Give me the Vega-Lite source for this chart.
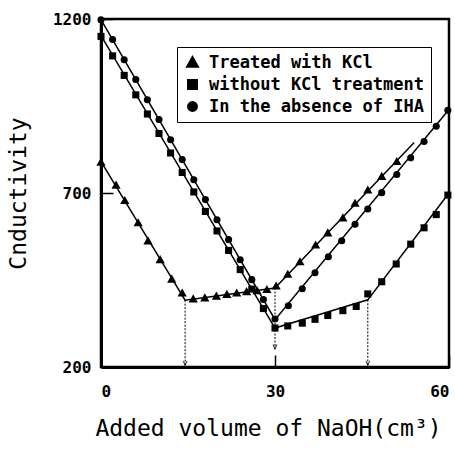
{
  "$schema": "https://vega.github.io/schema/vega-lite/v6.json",
  "autosize": "none",
  "width": 348,
  "height": 348,
  "padding": {"left": 101, "top": 19, "right": 6, "bottom": 83},
  "background": "white",
  "config": {
    "view": {"stroke": "black", "strokeWidth": 2.5},
    "font": "DejaVu Sans Mono"
  },
  "datasets": {
    "fits": [
      {"series": "Treated with KCl", "x": 0, "y": 790},
      {"series": "Treated with KCl", "x": 14.5, "y": 392},
      {"series": "Treated with KCl", "x": 30, "y": 427},
      {"series": "Treated with KCl", "x": 54, "y": 845},
      {"series": "without KCl treatment", "x": 0, "y": 1152},
      {"series": "without KCl treatment", "x": 30, "y": 312},
      {"series": "without KCl treatment", "x": 46, "y": 393},
      {"series": "without KCl treatment", "x": 60, "y": 700},
      {"series": "In the absence of IHA", "x": 0, "y": 1198},
      {"series": "In the absence of IHA", "x": 30, "y": 336},
      {"series": "In the absence of IHA", "x": 60, "y": 940}
    ],
    "arrows": [
      {"x": 14.5, "y": 392, "y_end": 205},
      {"x": 30, "y": 427, "y_end": 252},
      {"x": 46, "y": 393, "y_end": 205}
    ],
    "points": [
      {"series": "Treated with KCl", "x": 0, "y": 788},
      {"series": "Treated with KCl", "x": 2.6, "y": 722},
      {"series": "Treated with KCl", "x": 4.1, "y": 678},
      {"series": "Treated with KCl", "x": 6.4, "y": 614},
      {"series": "Treated with KCl", "x": 8.1, "y": 562},
      {"series": "Treated with KCl", "x": 10.2, "y": 508},
      {"series": "Treated with KCl", "x": 12.2, "y": 452},
      {"series": "Treated with KCl", "x": 14.0, "y": 412},
      {"series": "Treated with KCl", "x": 15.9, "y": 395},
      {"series": "Treated with KCl", "x": 17.9, "y": 398},
      {"series": "Treated with KCl", "x": 19.9, "y": 403},
      {"series": "Treated with KCl", "x": 21.7, "y": 408},
      {"series": "Treated with KCl", "x": 23.4, "y": 412},
      {"series": "Treated with KCl", "x": 25.1, "y": 416},
      {"series": "Treated with KCl", "x": 26.9, "y": 419},
      {"series": "Treated with KCl", "x": 28.6, "y": 422},
      {"series": "Treated with KCl", "x": 30.2, "y": 432},
      {"series": "Treated with KCl", "x": 32.2, "y": 466},
      {"series": "Treated with KCl", "x": 34.3, "y": 502},
      {"series": "Treated with KCl", "x": 37.0, "y": 550},
      {"series": "Treated with KCl", "x": 39.1, "y": 585},
      {"series": "Treated with KCl", "x": 41.7, "y": 628},
      {"series": "Treated with KCl", "x": 43.8, "y": 670},
      {"series": "Treated with KCl", "x": 46.0, "y": 708},
      {"series": "Treated with KCl", "x": 48.4, "y": 747},
      {"series": "Treated with KCl", "x": 51.0, "y": 790},
      {"series": "without KCl treatment", "x": 0, "y": 1150},
      {"series": "without KCl treatment", "x": 2, "y": 1094},
      {"series": "without KCl treatment", "x": 4, "y": 1038},
      {"series": "without KCl treatment", "x": 6, "y": 982},
      {"series": "without KCl treatment", "x": 8, "y": 927},
      {"series": "without KCl treatment", "x": 10, "y": 871},
      {"series": "without KCl treatment", "x": 12, "y": 815},
      {"series": "without KCl treatment", "x": 14, "y": 759},
      {"series": "without KCl treatment", "x": 16, "y": 703},
      {"series": "without KCl treatment", "x": 18, "y": 647},
      {"series": "without KCl treatment", "x": 20, "y": 591},
      {"series": "without KCl treatment", "x": 22, "y": 535},
      {"series": "without KCl treatment", "x": 24, "y": 480},
      {"series": "without KCl treatment", "x": 26, "y": 424},
      {"series": "without KCl treatment", "x": 28, "y": 368},
      {"series": "without KCl treatment", "x": 30, "y": 312},
      {"series": "without KCl treatment", "x": 32.2, "y": 318},
      {"series": "without KCl treatment", "x": 34.7, "y": 326},
      {"series": "without KCl treatment", "x": 36.9, "y": 337},
      {"series": "without KCl treatment", "x": 39.1, "y": 348},
      {"series": "without KCl treatment", "x": 41.7, "y": 362},
      {"series": "without KCl treatment", "x": 44.0, "y": 374},
      {"series": "without KCl treatment", "x": 46.0, "y": 410},
      {"series": "without KCl treatment", "x": 48.4, "y": 445},
      {"series": "without KCl treatment", "x": 50.9, "y": 496},
      {"series": "without KCl treatment", "x": 53.4, "y": 553},
      {"series": "without KCl treatment", "x": 55.7, "y": 600},
      {"series": "without KCl treatment", "x": 57.8, "y": 638},
      {"series": "without KCl treatment", "x": 59.8, "y": 694},
      {"series": "In the absence of IHA", "x": 0, "y": 1198},
      {"series": "In the absence of IHA", "x": 2, "y": 1141},
      {"series": "In the absence of IHA", "x": 4, "y": 1083},
      {"series": "In the absence of IHA", "x": 6, "y": 1026},
      {"series": "In the absence of IHA", "x": 8, "y": 968},
      {"series": "In the absence of IHA", "x": 10, "y": 911},
      {"series": "In the absence of IHA", "x": 12, "y": 853},
      {"series": "In the absence of IHA", "x": 14, "y": 796},
      {"series": "In the absence of IHA", "x": 16, "y": 738},
      {"series": "In the absence of IHA", "x": 18, "y": 681},
      {"series": "In the absence of IHA", "x": 20, "y": 623},
      {"series": "In the absence of IHA", "x": 22, "y": 566},
      {"series": "In the absence of IHA", "x": 24, "y": 508},
      {"series": "In the absence of IHA", "x": 26, "y": 451},
      {"series": "In the absence of IHA", "x": 28, "y": 394},
      {"series": "In the absence of IHA", "x": 30, "y": 338},
      {"series": "In the absence of IHA", "x": 32.3, "y": 376},
      {"series": "In the absence of IHA", "x": 34.7, "y": 425},
      {"series": "In the absence of IHA", "x": 36.9, "y": 471},
      {"series": "In the absence of IHA", "x": 39.2, "y": 517},
      {"series": "In the absence of IHA", "x": 41.5, "y": 563},
      {"series": "In the absence of IHA", "x": 43.8, "y": 610},
      {"series": "In the absence of IHA", "x": 46.0, "y": 654},
      {"series": "In the absence of IHA", "x": 48.4, "y": 701},
      {"series": "In the absence of IHA", "x": 51.0, "y": 753},
      {"series": "In the absence of IHA", "x": 53.4, "y": 801},
      {"series": "In the absence of IHA", "x": 55.7, "y": 848},
      {"series": "In the absence of IHA", "x": 57.8, "y": 892},
      {"series": "In the absence of IHA", "x": 59.8, "y": 938}
    ]
  },
  "encoding": {
    "x": {
      "field": "x", "type": "quantitative",
      "scale": {"domain": [0, 60], "nice": false, "zero": false},
      "axis": {
        "values": [0, 30, 60],
        "grid": false,
        "tickSize": -12, "tickColor": "black", "tickWidth": 1.5,
        "domainColor": "black", "domainWidth": 3,
        "labelFont": "DejaVu Sans Mono", "labelFontWeight": "bold", "labelFontSize": 16,
        "labelColor": "black", "labelPadding": 28, "labelFlush": true,
        "title": "Added volume of NaOH(cm³)",
        "titleFont": "DejaVu Sans Mono", "titleFontWeight": "normal", "titleFontSize": 23,
        "titleColor": "black", "titleX": 167, "titleY": 68, "titleBaseline": "alphabetic", "titleAlign": "center"
      }
    },
    "y": {
      "field": "y", "type": "quantitative",
      "scale": {"domain": [200, 1200], "nice": false, "zero": false},
      "axis": {
        "values": [200, 700, 1200],
        "format": "d",
        "grid": false,
        "tickSize": -12, "tickColor": "black", "tickWidth": 1.5,
        "domainColor": "black", "domainWidth": 3,
        "labelFont": "DejaVu Sans Mono", "labelFontWeight": "bold", "labelFontSize": 16,
        "labelColor": "black", "labelPadding": 22, "labelFlush": false,
        "title": "Cnductivity",
        "titleFont": "DejaVu Sans Mono", "titleFontWeight": "normal", "titleFontSize": 23,
        "titleColor": "black", "titleX": -83, "titleY": 174, "titleAngle": 270,
        "titleBaseline": "middle", "titleAlign": "center"
      }
    }
  },
  "layer": [
    {
      "data": {"name": "fits"},
      "mark": {"type": "line", "color": "black", "strokeWidth": 1.5},
      "encoding": {"detail": {"field": "series", "type": "nominal"}}
    },
    {
      "data": {"name": "arrows"},
      "mark": {"type": "rule", "color": "black", "strokeWidth": 1, "strokeDash": [2, 1.5]},
      "encoding": {"y2": {"field": "y_end"}}
    },
    {
      "data": {"name": "arrows"},
      "mark": {"type": "point", "shape": "M-0.7,-1.6L0,0L0.7,-1.6", "filled": false, "stroke": "black", "strokeWidth": 1.2, "size": 30},
      "encoding": {"y": {"field": "y_end", "type": "quantitative"}}
    },
    {
      "data": {"name": "points"},
      "mark": {"type": "point", "filled": true, "color": "black", "opacity": 1, "size": 50},
      "encoding": {
        "shape": {
          "field": "series", "type": "nominal",
          "scale": {
            "domain": ["Treated with KCl", "without KCl treatment", "In the absence of IHA"],
            "range": ["M0,-1.35L1.3,0.95L-1.3,0.95Z", "square", "circle"]
          },
          "legend": {
            "title": null, "orient": "none", "legendX": 76, "legendY": 28,
            "strokeColor": "black", "fillColor": "white",
            "padding": 7, "rowPadding": 4,
            "symbolSize": 120, "symbolFillColor": "black", "symbolStrokeColor": "black",
            "symbolOpacity": 1, "symbolOffset": 0,
            "labelFont": "DejaVu Sans Mono", "labelFontWeight": "bold", "labelFontSize": 17,
            "labelColor": "black", "labelOffset": 8, "labelLimit": 400,
            "encode": {"legend": {"update": {"strokeWidth": {"value": 1.5}}}}
          }
        }
      }
    }
  ]
}
